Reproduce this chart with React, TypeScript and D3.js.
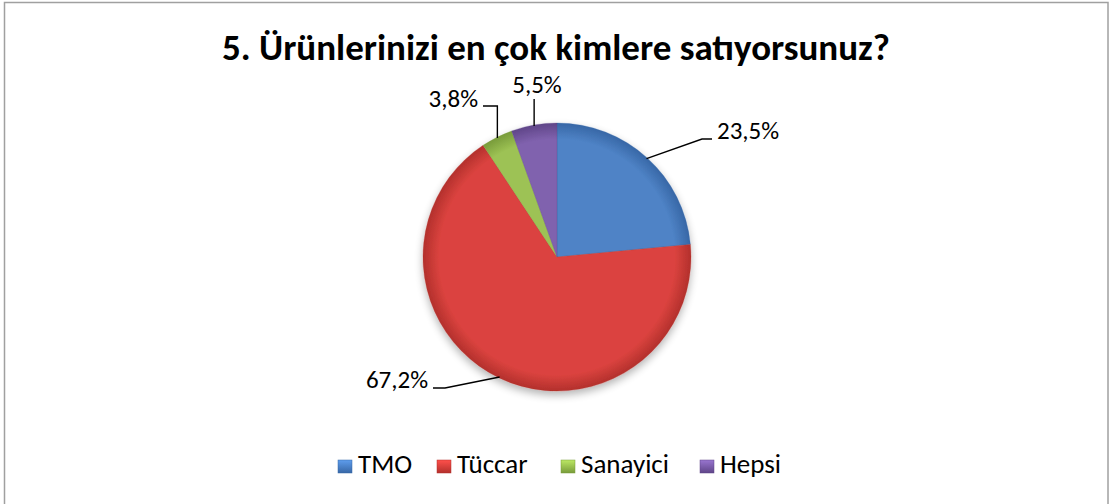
import React from "react";
import * as d3 from "d3";

const categories = ["TMO", "Tüccar", "Sanayici", "Hepsi"];
const values = [23.5, 67.2, 3.8, 5.5];
const labels = ["23,5%", "67,2%", "3,8%", "5,5%"];
const colors = ["#4F83C6", "#DB433F", "#9DC254", "#8062AE"];
const darkColors = ["#3767A6", "#B3302C", "#789B3A", "#5F4588"];
const title = "5. Ürünlerinizi en çok kimlere satıyorsunuz?";

const W = 1111;
const H = 504;
const cx = 557;
const cy = 257;
const R = 134;

export default function App() {
  const pie = d3.pie<number>().sort(null).value((d) => d)(values);
  const arc = d3.arc<d3.PieArcDatum<number>>().innerRadius(0).outerRadius(R);
  const onEdge = (a: d3.PieArcDatum<number>, r: number, t = 0.5) => {
    const m = a.startAngle + (a.endAngle - a.startAngle) * t;
    return [cx + r * Math.sin(m), cy - r * Math.cos(m)];
  };
  const labelPos: [number, number, string][] = [
    [717, 139, "start"],
    [428, 388, "end"],
    [478, 107, "end"],
    [537, 93, "middle"],
  ];
  const legendX = [338, 437, 561, 700];
  const font = "Calibri, Carlito, 'Open Sans', sans-serif";
  return (
    <svg width={W} height={H} style={{ position: "absolute", left: 0, top: 0, fontFamily: font }}>
      <defs>
        {colors.map((c, i) => (
          <radialGradient key={i} id={`g${i}`} gradientUnits="userSpaceOnUse" cx={0} cy={0} r={R}>
            <stop offset="0%" stopColor={c} />
            <stop offset="88%" stopColor={c} />
            <stop offset="100%" stopColor={darkColors[i]} />
          </radialGradient>
        ))}
        {colors.map((c, i) => (
          <linearGradient key={"l" + i} id={`lg${i}`} x1="0" y1="0" x2="0" y2="1">
            <stop offset="0%" stopColor={d3.color(c)!.brighter(0.5).toString()} />
            <stop offset="100%" stopColor={darkColors[i]} />
          </linearGradient>
        ))}
        <filter id="shadow" x="-20%" y="-20%" width="140%" height="140%">
          <feGaussianBlur in="SourceAlpha" stdDeviation="4" />
          <feOffset dx="0" dy="4" result="b" />
          <feComponentTransfer>
            <feFuncA type="linear" slope="0.3" />
          </feComponentTransfer>
          <feMerge>
            <feMergeNode />
            <feMergeNode in="SourceGraphic" />
          </feMerge>
        </filter>
      </defs>
      <rect x={0} y={0} width={W} height={H} fill="#fff" />
      <rect x={4.5} y={2.5} width={1103.5} height={H + 10} fill="none" stroke="#A0A0A0" strokeWidth={1.5} />
      <text x={556} y={60} textAnchor="middle" fontSize={37} fontWeight="bold" fill="#000">
        {title}
      </text>
      <g filter="url(#shadow)">
        {pie.map((a, i) => (
          <path
            key={i}
            d={arc(a) || ""}
            transform={`translate(${cx},${cy})`}
            fill={`url(#g${i})`}
            stroke={darkColors[i]}
            strokeOpacity={0.35}
            strokeWidth={0.8}
          />
        ))}
      </g>
      {pie.map((a, i) => {
        const [lx, ly] = labelPos[i];
        const [px, py] = onEdge(a, R - 1, 0.5);
        let d = "";
        if (i === 0) d = `M${px},${py}L${lx - 15},${ly}L${lx - 5},${ly}`;
        if (i === 1) d = `M${px},${py}L${lx + 17},${ly}L${lx + 5},${ly}`;
        if (i === 2) d = `M${px},${py}L${px},${ly - 1}L${lx + 5},${ly - 1}`;
        if (i === 3) d = `M${px},${py}L${px},${ly + 6}`;
        return <path key={"ln" + i} d={d} fill="none" stroke="#000" strokeWidth={1.4} />;
      })}
      {pie.map((a, i) => {
        const [lx, ly] = labelPos[i];
        return (
          <text key={"t" + i} x={lx} y={ly} textAnchor={labelPos[i][2] as any} fontSize={25} fill="#000">
            {labels[i]}
          </text>
        );
      })}
      {categories.map((c, i) => (
        <g key={"lg" + i}>
          <rect x={legendX[i]} y={460} width={14} height={13} fill={`url(#lg${i})`} stroke={darkColors[i]} strokeWidth={0.5} />
          <text x={legendX[i] + 20} y={473} fontSize={27} fill="#000">
            {c}
          </text>
        </g>
      ))}
    </svg>
  );
}
